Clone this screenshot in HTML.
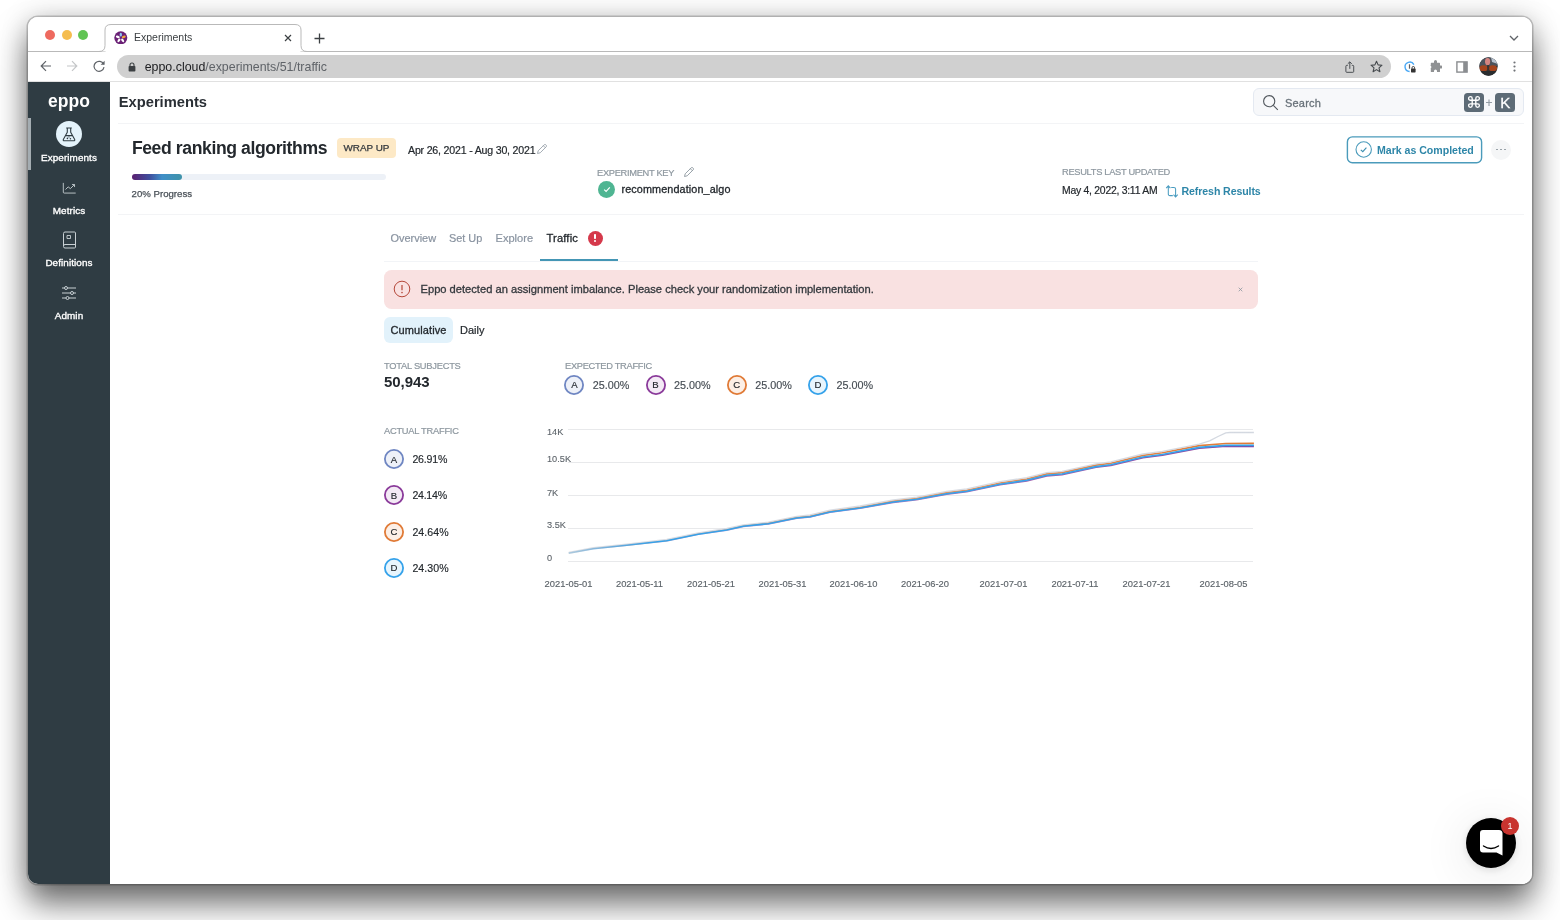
<!DOCTYPE html>
<html><head><meta charset="utf-8">
<style>
*{box-sizing:border-box;margin:0;padding:0}
html,body{width:1560px;height:920px;overflow:hidden;background:#fff;font-family:"Liberation Sans",sans-serif;color:#2a2f35}
.abs{position:absolute}
.t{position:absolute;white-space:nowrap;line-height:1}
#shadow{position:absolute;left:28px;top:17px;width:1504px;height:867px;border-radius:10px;box-shadow:0 0 0 1.5px rgba(0,0,0,.2),0 20px 32px rgba(0,0,0,.55),0 0 28px rgba(0,0,0,.19)}
#win{position:absolute;left:28px;top:17px;width:1504px;height:867px;border-radius:10px;overflow:hidden;background:#fff}
#win>*{position:absolute}
</style></head><body>
<div id="shadow"></div>
<div id="win">
<!-- coordinates inside #win are page coords minus (28,17) -->
<div id="page" style="left:-28px;top:-17px;width:1560px;height:920px;will-change:transform">

<div class="abs" style="left:28px;top:17px;width:1504px;height:35px;background:#fff;border-bottom:1px solid #b9b9b9"></div>
<div class="abs" style="left:45px;top:30px;width:10px;height:10px;border-radius:50%;background:#ee6a5f"></div>
<div class="abs" style="left:61.5px;top:30px;width:10px;height:10px;border-radius:50%;background:#f5bd4f"></div>
<div class="abs" style="left:78px;top:30px;width:10px;height:10px;border-radius:50%;background:#61c454"></div>
<svg class="abs" style="left:96px;top:22px" width="216" height="31" viewBox="0 0 216 31">
<path d="M0 29.5 H3 Q9 29.5 9 23.5 V8 Q9 2.5 15 2.5 H199 Q205 2.5 205 8 V23.5 Q205 29.5 211 29.5 H216" fill="#fff" stroke="#b9b9b9" stroke-width="1"/>
<rect x="9.6" y="28" width="194.8" height="3" fill="#fff"/>
</svg>
<svg class="abs" style="left:114.2px;top:30.9px" width="13.6" height="13.6" viewBox="0 0 15 15">
<circle cx="7.5" cy="7.5" r="7.2" fill="#6b2176"/>
<g fill="#fff"><ellipse cx="7.5" cy="4" rx="1.3" ry="2.2" fill="#8cc7f0"/><ellipse cx="7.5" cy="4" rx="1.3" ry="2.2" transform="rotate(72 7.5 7.5)" fill="#f0a63a"/><ellipse cx="7.5" cy="4" rx="1.3" ry="2.2" transform="rotate(144 7.5 7.5)"/><ellipse cx="7.5" cy="4" rx="1.3" ry="2.2" transform="rotate(216 7.5 7.5)"/><ellipse cx="7.5" cy="4" rx="1.3" ry="2.2" transform="rotate(288 7.5 7.5)"/></g>
</svg>
<div class="t" style="left:134px;top:32px;font-size:10.5px;color:#3c4043">Experiments</div>
<svg class="abs" style="left:284px;top:33.5px" width="8" height="8" viewBox="0 0 8 8"><path d="M1 1 L7 7 M7 1 L1 7" stroke="#3c4043" stroke-width="1.2" fill="none"/></svg>
<svg class="abs" style="left:314px;top:32.5px" width="11" height="11" viewBox="0 0 11 11"><path d="M5.5 0.5 V10.5 M0.5 5.5 H10.5" stroke="#3c4043" stroke-width="1.3" fill="none"/></svg>
<svg class="abs" style="left:1509px;top:35px" width="10" height="6" viewBox="0 0 10 6"><path d="M1 1 L5 5 L9 1" stroke="#5f6368" stroke-width="1.3" fill="none"/></svg>


<div class="abs" style="left:28px;top:52px;width:1504px;height:30px;background:#fff;border-bottom:1px solid #e1e1e1"></div>
<svg class="abs" style="left:40px;top:60px" width="12" height="12" viewBox="0 0 12 12"><path d="M11 6 H1.5 M6 1.2 L1.2 6 L6 10.8" stroke="#5f6368" stroke-width="1.2" fill="none"/></svg>
<svg class="abs" style="left:66px;top:60px" width="12" height="12" viewBox="0 0 12 12"><path d="M1 6 H10.5 M6 1.2 L10.8 6 L6 10.8" stroke="#c4c6c8" stroke-width="1.2" fill="none"/></svg>
<svg class="abs" style="left:92.8px;top:60.3px" width="13" height="12" viewBox="0 0 13 12"><path d="M10.6 4.2 A5 5 0 1 0 11 7.2" stroke="#5f6368" stroke-width="1.2" fill="none"/><path d="M11.6 0.8 V4.8 H7.6 Z" fill="#5f6368"/></svg>
<div class="abs" style="left:117px;top:55px;width:1274px;height:23px;border-radius:11.5px;background:#d0d0d0"></div>
<svg class="abs" style="left:127.8px;top:61.8px" width="8" height="10" viewBox="0 0 8 10"><rect x="0.6" y="4" width="6.8" height="5.6" rx="0.8" fill="#3c4043"/><path d="M2 4.5 V3 A2 2 0 0 1 6 3 V4.5" stroke="#3c4043" stroke-width="1.1" fill="none"/></svg>
<div class="t" style="left:144.7px;top:61px;font-size:12.4px;color:#5f6368"><span style="color:#202124">eppo.cloud</span>/experiments/51/traffic</div>
<svg class="abs" style="left:1345.2px;top:60.6px" width="9.6" height="12.2" viewBox="0 0 11 14"><path d="M3.2 5 H2 Q1 5 1 6 V12 Q1 13 2 13 H9 Q10 13 10 12 V6 Q10 5 9 5 H7.8 M5.5 9 V1.2 M3.2 3.2 L5.5 1 L7.8 3.2" stroke="#45494d" stroke-width="1.1" fill="none"/></svg>
<svg class="abs" style="left:1370px;top:59.5px" width="13" height="13" viewBox="0 0 13 13"><path d="M6.5 1.2 L8.1 4.9 L12 5.2 L9 7.8 L9.9 11.7 L6.5 9.6 L3.1 11.7 L4 7.8 L1 5.2 L4.9 4.9 Z" stroke="#45494d" stroke-width="1.1" fill="none" stroke-linejoin="round"/></svg>
<svg class="abs" style="left:1402.5px;top:59.6px" width="14" height="14" viewBox="0 0 14 14"><path d="M10.9 4.6 A4.7 4.7 0 1 0 6.6 11.5" stroke="#49a8f5" stroke-width="1.4" fill="none"/><rect x="5.9" y="4.3" width="1.2" height="4.4" fill="#5a5f66"/><rect x="8" y="8.6" width="4.6" height="3.8" rx="0.6" fill="#333"/><path d="M9 8.8 V7.8 A1.3 1.3 0 0 1 11.6 7.8 V8.8" stroke="#333" stroke-width="0.9" fill="none"/></svg>
<svg class="abs" style="left:1429px;top:60px" width="13" height="13" viewBox="0 0 13 13"><path d="M5 1.6 A1.5 1.5 0 0 1 8 1.6 V2.8 H10.4 Q11 2.8 11 3.4 V5.6 H12 A1.5 1.5 0 0 1 12 8.6 H11 V11.4 Q11 12 10.4 12 H8 V11 A1.5 1.5 0 0 0 5 11 V12 H2.4 Q1.8 12 1.8 11.4 V8.6 H0.9 A1.5 1.5 0 0 0 0.9 5.6 H1.8 V3.4 Q1.8 2.8 2.4 2.8 H5 Z" fill="#8f9193"/></svg>
<svg class="abs" style="left:1455.8px;top:60.5px" width="12" height="12" viewBox="0 0 12 12"><rect x="0.9" y="0.9" width="10.2" height="10.2" fill="none" stroke="#8a8d90" stroke-width="1.4"/><rect x="7.2" y="0.9" width="3.9" height="10.2" fill="#8a8d90"/></svg>
<svg class="abs" style="left:1479px;top:57px" width="19" height="19" viewBox="0 0 19 19"><defs><clipPath id="av"><circle cx="9.5" cy="9.5" r="9.2"/></clipPath></defs><g clip-path="url(#av)"><rect width="19" height="19" fill="#2b2f33"/><rect x="0" y="0" width="19" height="9" fill="#4c535c"/><path d="M12 0 H19 V7 L13 5 Z" fill="#b9c3cf"/><ellipse cx="8.6" cy="4.6" rx="2.6" ry="3.6" fill="#d58581"/><ellipse cx="4.6" cy="11.3" rx="4.3" ry="3" fill="#a5441d"/><ellipse cx="13.8" cy="11.3" rx="4.3" ry="3" fill="#a5441d"/><rect x="8.2" y="8" width="2" height="6" fill="#3a3432"/><rect x="0" y="14" width="19" height="5" fill="#2a2c2e"/></g></svg>
<svg class="abs" style="left:1512.5px;top:60px" width="3" height="13" viewBox="0 0 3 13"><circle cx="1.5" cy="2.5" r="1.1" fill="#707377"/><circle cx="1.5" cy="6.5" r="1.1" fill="#707377"/><circle cx="1.5" cy="10.6" r="1.1" fill="#707377"/></svg>


<div class="abs" style="left:28px;top:82px;width:82px;height:802px;background:#2f3c43"></div>
<div class="abs" style="left:28px;top:118px;width:3px;height:52px;background:#a4adb2"></div>
<div class="t sb" style="left:28px;width:82px;text-align:center;top:93px;font-size:17.5px;font-weight:bold;color:#fff;letter-spacing:0px">eppo</div>
<div class="abs" style="left:56px;top:121.4px;width:26px;height:26px;border-radius:50%;background:#e4f3fb"></div>
<svg class="abs" style="left:62px;top:126.8px" width="14" height="15" viewBox="0 0 14 15"><path d="M4.2 1 H9.8 M5.3 1 V5.2 L1.3 12.6 Q0.9 13.8 2.2 13.8 H11.8 Q13.1 13.8 12.7 12.6 L8.7 5.2 V1 M3.6 8.6 H10.4" stroke="#2f3c43" stroke-width="1.1" fill="none" stroke-linejoin="round"/><circle cx="5.4" cy="11.4" r="0.8" fill="#2f3c43"/><circle cx="8.4" cy="11.8" r="0.8" fill="#2f3c43"/><circle cx="7" cy="9.9" r="0.6" fill="#2f3c43"/></svg>
<div class="t" style="left:28px;width:82px;text-align:center;top:153px;font-size:9.9px;color:#fff;-webkit-text-stroke:0.35px #fff;letter-spacing:0.1px">Experiments</div>
<svg class="abs" style="left:61.8px;top:181.5px" width="15" height="12.4" viewBox="0 0 16 14"><path d="M1 1 V11.5 Q1 12.5 2 12.5 H15" stroke="#c9d0d4" stroke-width="1" fill="none"/><path d="M3.5 8.5 L6.5 5.5 L9 7.5 L13.5 3 M10.8 2.8 H13.7 V5.7" stroke="#c9d0d4" stroke-width="1" fill="none"/></svg>
<div class="t" style="left:28px;width:82px;text-align:center;top:205.5px;font-size:9.9px;color:#fff;-webkit-text-stroke:0.35px #fff;letter-spacing:0.1px">Metrics</div>
<svg class="abs" style="left:61.5px;top:231px" width="15" height="18" viewBox="0 0 15 18"><path d="M3 1 H12.5 Q13.5 1 13.5 2 V16 Q13.5 17 12.5 17 H3 Q1.5 17 1.5 15.5 V2.5 Q1.5 1 3 1 Z M1.5 15 Q1.5 13.5 3 13.5 H13.5" stroke="#c9d0d4" stroke-width="1" fill="none"/><path d="M5 4.5 H8.5 V7.5 H5 Z" stroke="#c9d0d4" stroke-width="0.9" fill="none"/></svg>
<div class="t" style="left:28px;width:82px;text-align:center;top:258px;font-size:9.9px;color:#fff;-webkit-text-stroke:0.35px #fff;letter-spacing:0.1px">Definitions</div>
<svg class="abs" style="left:61px;top:285px" width="16" height="16" viewBox="0 0 16 16"><path d="M1 3 H3.5 M6.5 3 H15 M1 8 H9.5 M12.5 8 H15 M1 13 H5 M8 13 H15" stroke="#c9d0d4" stroke-width="1" fill="none"/><circle cx="5" cy="3" r="1.5" stroke="#c9d0d4" stroke-width="1" fill="none"/><circle cx="11" cy="8" r="1.5" stroke="#c9d0d4" stroke-width="1" fill="none"/><circle cx="6.5" cy="13" r="1.5" stroke="#c9d0d4" stroke-width="1" fill="none"/></svg>
<div class="t" style="left:28px;width:82px;text-align:center;top:310.5px;font-size:9.9px;color:#fff;-webkit-text-stroke:0.35px #fff;letter-spacing:0.1px">Admin</div>


<div class="t" style="left:118.8px;top:94.8px;font-size:14.7px;font-weight:bold;color:#2a2f35">Experiments</div>
<div class="abs" style="left:1253px;top:88px;width:271px;height:28px;border-radius:6px;background:#f7f8fa;border:1px solid #e4e9f1"></div>
<svg class="abs" style="left:1262px;top:94.4px" width="17" height="17" viewBox="0 0 17 17"><circle cx="7.2" cy="7.2" r="5.6" stroke="#50565c" stroke-width="1.1" fill="none"/><path d="M11.3 11.3 L15.8 15.8" stroke="#50565c" stroke-width="1.1"/></svg>
<div class="t" style="left:1285px;top:97.5px;font-size:11px;color:#69727a;-webkit-text-stroke:0.3px #69727a;letter-spacing:0.2px">Search</div>
<div class="abs" style="left:1464.3px;top:92.5px;width:19.7px;height:19.7px;border-radius:3.5px;background:#5d6b76"></div>
<svg class="abs" style="left:1467.2px;top:95.4px" width="14" height="14" viewBox="0 0 14 14"><path d="M5.2 5.2 H8.8 V8.8 H5.2 Z M5.2 5.2 V3.4 A1.8 1.8 0 1 0 3.4 5.2 H5.2 M8.8 5.2 V3.4 A1.8 1.8 0 1 1 10.6 5.2 H8.8 M5.2 8.8 V10.6 A1.8 1.8 0 1 1 3.4 8.8 H5.2 M8.8 8.8 V10.6 A1.8 1.8 0 1 0 10.6 8.8 H8.8" stroke="#fff" stroke-width="1.35" fill="none"/></svg>
<div class="t" style="left:1485.6px;top:96.6px;font-size:12px;color:#949da5;-webkit-text-stroke:0.2px #949da5">+</div>
<div class="abs" style="left:1495.3px;top:92.5px;width:19.7px;height:19.7px;border-radius:3.5px;background:#5d6b76"></div>
<div class="t" style="left:1495.3px;width:19.7px;text-align:center;top:95px;font-size:15px;color:#fff;-webkit-text-stroke:0.3px #fff">K</div>
<div class="abs" style="left:118px;top:122.5px;width:1406px;height:1px;background:#f3f4f6"></div>


<div class="t" style="left:131.9px;top:139.7px;font-size:17.6px;font-weight:bold;color:#23282d;letter-spacing:-0.4px">Feed ranking algorithms</div>
<div class="abs" style="left:337px;top:138px;width:59px;height:20px;border-radius:4px;background:#fde9c6"></div>
<div class="t" style="left:337px;width:59px;text-align:center;top:143.2px;font-size:9.9px;color:#33383d;-webkit-text-stroke:0.25px #33383d">WRAP UP</div>
<div class="t" style="left:408px;top:145px;font-size:10.6px;letter-spacing:-0.19px;color:#23282d;-webkit-text-stroke:0.2px #23282d">Apr 26, 2021 - Aug 30, 2021</div>
<svg class="abs" style="left:536px;top:143px" width="12" height="12" viewBox="0 0 12 12"><path d="M1.5 10.5 L2.2 7.8 L8.2 1.8 Q9 1 9.8 1.8 L10.2 2.2 Q11 3 10.2 3.8 L4.2 9.8 Z M7.3 2.7 L9.3 4.7" stroke="#9aa3ab" stroke-width="0.9" fill="none" stroke-linejoin="round"/></svg>
<div class="abs" style="left:131.5px;top:174.1px;width:254.5px;height:6px;border-radius:3px;background:#edf1f7"></div>
<div class="abs" style="left:131.5px;top:174.1px;width:50.7px;height:6px;border-radius:3px;background:linear-gradient(90deg,#5c2070 0%,#3f4f9e 35%,#3f8fc8 60%,#3f93a9 100%)"></div>
<div class="t" style="left:131.6px;top:188.8px;font-size:9.65px;color:#4a5158;-webkit-text-stroke:0.25px #4a5158">20% Progress</div>

<div class="t" style="left:597px;top:168.9px;font-size:9.3px;letter-spacing:-0.31px;color:#8d979f;-webkit-text-stroke:0.2px #8d979f">EXPERIMENT KEY</div>
<svg class="abs" style="left:683px;top:166px" width="12" height="12" viewBox="0 0 12 12"><path d="M1.5 10.5 L2.2 7.8 L8.2 1.8 Q9 1 9.8 1.8 L10.2 2.2 Q11 3 10.2 3.8 L4.2 9.8 Z M7.3 2.7 L9.3 4.7" stroke="#8d979f" stroke-width="0.9" fill="none" stroke-linejoin="round"/></svg>
<div class="abs" style="left:598px;top:181px;width:17px;height:17px;border-radius:50%;background:#4fb592"></div>
<svg class="abs" style="left:602.5px;top:186px" width="8" height="7" viewBox="0 0 8 7"><path d="M1.2 3.6 L3.1 5.4 L6.8 1.4" stroke="#fff" stroke-width="1.2" fill="none"/></svg>
<div class="t" style="left:621.5px;top:183.5px;font-size:10.8px;letter-spacing:0.12px;color:#23282d;-webkit-text-stroke:0.3px #23282d">recommendation_algo</div>

<div class="t" style="left:1062px;top:167.9px;font-size:9.3px;letter-spacing:-0.31px;color:#8d979f;-webkit-text-stroke:0.2px #8d979f">RESULTS LAST UPDATED</div>
<div class="t" style="left:1062px;top:186.2px;font-size:10.4px;color:#23282d;-webkit-text-stroke:0.2px #23282d;letter-spacing:-0.25px">May 4, 2022, 3:11 AM</div>
<svg class="abs" style="left:1165px;top:183.5px" width="14" height="14" viewBox="0 0 14 14"><path d="M7.8 11.6 H5 Q3.3 11.6 3.3 9.9 V2 M1.2 4.2 L3.3 1.8 L5.4 4.2 M6.2 3.4 H8.9 Q10.6 3.4 10.6 5.1 V12.8 M8.5 10.6 L10.6 13 L12.7 10.6" stroke="#4a9cc0" stroke-width="1.05" fill="none"/></svg>
<div class="t" style="left:1181.5px;top:185.7px;font-size:10.6px;font-weight:bold;color:#2e86a8;letter-spacing:-0.1px">Refresh Results</div>

<svg class="abs" style="left:1345px;top:135px" width="139" height="30" viewBox="0 0 139 30"><rect x="2.4" y="1.9" width="134.2" height="25.8" rx="5" fill="#fff" stroke="#4b9bbb" stroke-width="1.4"/></svg>
<svg class="abs" style="left:1355px;top:141.2px" width="17" height="17" viewBox="0 0 17 17"><circle cx="8.7" cy="8.5" r="7.7" stroke="#4b9bbb" stroke-width="1.1" fill="none"/><path d="M5.8 8.8 L7.8 10.7 L11.4 6.6" stroke="#3d8fb0" stroke-width="1.1" fill="none"/></svg>
<div class="t" style="left:1377px;top:144.7px;font-size:10.6px;font-weight:bold;color:#2e86a8;letter-spacing:-0.02px">Mark as Completed</div>
<div class="abs" style="left:1491px;top:139.5px;width:20px;height:20px;border-radius:50%;background:#f5f6f7"></div>
<div class="abs" style="left:1496.2px;top:148.8px;width:1.6px;height:1.6px;border-radius:50%;background:#8d979f;box-shadow:4px 0 0 #8d979f,8px 0 0 #8d979f"></div>
<div class="abs" style="left:118px;top:213.5px;width:1406px;height:1px;background:#f3f4f6"></div>

<div class="t" style="left:390.5px;top:233px;font-size:10.95px;color:#8993a0;-webkit-text-stroke:0.2px #8993a0">Overview</div>
<div class="t" style="left:449px;top:233px;font-size:10.9px;color:#8993a0;-webkit-text-stroke:0.2px #8993a0">Set Up</div>
<div class="t" style="left:495.5px;top:233px;font-size:11.1px;color:#8993a0;-webkit-text-stroke:0.2px #8993a0">Explore</div>
<div class="t" style="left:546.5px;top:233px;font-size:11.2px;letter-spacing:0.15px;color:#23282d;-webkit-text-stroke:0.3px #23282d">Traffic</div>
<div class="abs" style="left:587.5px;top:230.5px;width:15px;height:15px;border-radius:50%;background:#d5394b"></div>
<div class="abs" style="left:594.2px;top:233.6px;width:1.7px;height:5.4px;border-radius:0.8px;background:#fff"></div>
<div class="abs" style="left:594.1px;top:240.3px;width:1.9px;height:1.9px;border-radius:50%;background:#fff"></div>
<div class="abs" style="left:384px;top:260.5px;width:874px;height:1px;background:#f2f4f7"></div>
<div class="abs" style="left:540px;top:259px;width:78px;height:2px;background:#4496b5"></div>

<div class="abs" style="left:384px;top:269.6px;width:874px;height:39.3px;border-radius:7.5px;background:#f9e1e1"></div>
<svg class="abs" style="left:393px;top:280px" width="18" height="18" viewBox="0 0 18 18"><circle cx="9" cy="9" r="7.8" stroke="#b5483a" stroke-width="1" fill="none"/><path d="M9 5 V10.2" stroke="#b5483a" stroke-width="1.2"/><circle cx="9" cy="12.6" r="0.8" fill="#b5483a"/></svg>
<div class="t" style="left:420.5px;top:283.7px;font-size:11.15px;color:#33383d;-webkit-text-stroke:0.3px #33383d">Eppo detected an assignment imbalance. Please check your randomization implementation.</div>
<svg class="abs" style="left:1237.5px;top:287px" width="5" height="5" viewBox="0 0 5 5"><path d="M0.7 0.7 L4.3 4.3 M4.3 0.7 L0.7 4.3" stroke="#8d979f" stroke-width="0.8"/></svg>

<div class="abs" style="left:384px;top:317px;width:69px;height:26px;border-radius:6px;background:#e2f2fb"></div>
<div class="t" style="left:390.5px;top:325px;font-size:11px;letter-spacing:0.1px;color:#23282d;-webkit-text-stroke:0.3px #23282d">Cumulative</div>
<div class="t" style="left:460px;top:325px;font-size:11px;color:#23282d;-webkit-text-stroke:0.2px #23282d">Daily</div>

<div class="t" style="left:384px;top:362.0px;font-size:9.3px;letter-spacing:-0.24px;color:#8d979f;-webkit-text-stroke:0.2px #8d979f">TOTAL SUBJECTS</div>
<div class="t" style="left:384px;top:374.2px;font-size:15px;font-weight:bold;color:#23282d;letter-spacing:-0.05px">50,943</div>
<div class="t" style="left:565px;top:361.9px;font-size:9.3px;letter-spacing:-0.31px;color:#8d979f;-webkit-text-stroke:0.2px #8d979f">EXPECTED TRAFFIC</div>
<svg class="abs" style="left:563.4px;top:373.9px" width="22" height="22" viewBox="0 0 22 22"><circle cx="11" cy="11" r="9.1" fill="#eef1f8" stroke="#6f86c2" stroke-width="1.8"/></svg><div class="t" style="left:564.4px;width:20px;text-align:center;top:380.3px;font-size:9.6px;color:#23282d;-webkit-text-stroke:0.15px #23282d">A</div><div class="t" style="left:592.8px;top:380px;font-size:10.8px;color:#454c53;-webkit-text-stroke:0.15px #454c53">25.00%</div>
<svg class="abs" style="left:644.5px;top:373.9px" width="22" height="22" viewBox="0 0 22 22"><circle cx="11" cy="11" r="9.1" fill="#f3eaf5" stroke="#8a3a9a" stroke-width="1.8"/></svg><div class="t" style="left:645.5px;width:20px;text-align:center;top:380.3px;font-size:9.6px;color:#23282d;-webkit-text-stroke:0.15px #23282d">B</div><div class="t" style="left:673.9px;top:380px;font-size:10.8px;color:#454c53;-webkit-text-stroke:0.15px #454c53">25.00%</div>
<svg class="abs" style="left:725.8px;top:373.9px" width="22" height="22" viewBox="0 0 22 22"><circle cx="11" cy="11" r="9.1" fill="#fcefe6" stroke="#e07a36" stroke-width="1.8"/></svg><div class="t" style="left:726.8px;width:20px;text-align:center;top:380.3px;font-size:9.6px;color:#23282d;-webkit-text-stroke:0.15px #23282d">C</div><div class="t" style="left:755.2px;top:380px;font-size:10.8px;color:#454c53;-webkit-text-stroke:0.15px #454c53">25.00%</div>
<svg class="abs" style="left:807.0px;top:373.9px" width="22" height="22" viewBox="0 0 22 22"><circle cx="11" cy="11" r="9.1" fill="#e8f5fd" stroke="#35a2ea" stroke-width="1.8"/></svg><div class="t" style="left:808.0px;width:20px;text-align:center;top:380.3px;font-size:9.6px;color:#23282d;-webkit-text-stroke:0.15px #23282d">D</div><div class="t" style="left:836.4px;top:380px;font-size:10.8px;color:#454c53;-webkit-text-stroke:0.15px #454c53">25.00%</div>
<div class="t" style="left:384px;top:427.4px;font-size:9.3px;letter-spacing:-0.24px;color:#8d979f;-webkit-text-stroke:0.2px #8d979f">ACTUAL TRAFFIC</div>
<svg class="abs" style="left:383px;top:448.3px" width="22" height="22" viewBox="0 0 22 22"><circle cx="11" cy="11" r="9.1" fill="#eef1f8" stroke="#6f86c2" stroke-width="1.8"/></svg><div class="t" style="left:384px;width:20px;text-align:center;top:454.8px;font-size:9.6px;color:#23282d;-webkit-text-stroke:0.15px #23282d">A</div><div class="t" style="left:412.4px;top:454px;font-size:10.6px;color:#23282d;letter-spacing:-0.2px;-webkit-text-stroke:0.15px #23282d">26.91%</div>
<svg class="abs" style="left:383px;top:484.4px" width="22" height="22" viewBox="0 0 22 22"><circle cx="11" cy="11" r="9.1" fill="#f3eaf5" stroke="#8a3a9a" stroke-width="1.8"/></svg><div class="t" style="left:384px;width:20px;text-align:center;top:490.8px;font-size:9.6px;color:#23282d;-webkit-text-stroke:0.15px #23282d">B</div><div class="t" style="left:412.4px;top:490px;font-size:10.6px;color:#23282d;letter-spacing:-0.25px;-webkit-text-stroke:0.15px #23282d">24.14%</div>
<svg class="abs" style="left:383px;top:520.6px" width="22" height="22" viewBox="0 0 22 22"><circle cx="11" cy="11" r="9.1" fill="#fcefe6" stroke="#e07a36" stroke-width="1.8"/></svg><div class="t" style="left:384px;width:20px;text-align:center;top:526.8px;font-size:9.6px;color:#23282d;-webkit-text-stroke:0.15px #23282d">C</div><div class="t" style="left:412.4px;top:527px;font-size:10.6px;color:#23282d;letter-spacing:0.05px;-webkit-text-stroke:0.15px #23282d">24.64%</div>
<svg class="abs" style="left:383px;top:556.8px" width="22" height="22" viewBox="0 0 22 22"><circle cx="11" cy="11" r="9.1" fill="#e8f5fd" stroke="#35a2ea" stroke-width="1.8"/></svg><div class="t" style="left:384px;width:20px;text-align:center;top:563.3px;font-size:9.6px;color:#23282d;-webkit-text-stroke:0.15px #23282d">D</div><div class="t" style="left:412.4px;top:563px;font-size:10.6px;color:#23282d;letter-spacing:0.05px;-webkit-text-stroke:0.15px #23282d">24.30%</div>
<svg class="abs" style="left:540px;top:420px" width="730" height="180" viewBox="540 420 730 180">
<line x1="568" y1="429.5" x2="1253" y2="429.5" stroke="#e8e9eb" stroke-width="1"/>
<line x1="568" y1="462.5" x2="1253" y2="462.5" stroke="#e8e9eb" stroke-width="1"/>
<line x1="568" y1="495.5" x2="1253" y2="495.5" stroke="#e8e9eb" stroke-width="1"/>
<line x1="568" y1="528.5" x2="1253" y2="528.5" stroke="#e8e9eb" stroke-width="1"/>
<line x1="568" y1="561.5" x2="1253" y2="561.5" stroke="#e8e9eb" stroke-width="1"/>
<defs>
<linearGradient id="gA" gradientUnits="userSpaceOnUse" x1="568" y1="0" x2="1254" y2="0"><stop offset="0" stop-color="#d3d8e0" stop-opacity=".8"/><stop offset="1" stop-color="#d3d8e0"/></linearGradient>
<linearGradient id="gB" gradientUnits="userSpaceOnUse" x1="568" y1="0" x2="1254" y2="0"><stop offset="0" stop-color="#8a3a9a" stop-opacity="0"/><stop offset=".3" stop-color="#8a3a9a" stop-opacity=".6"/><stop offset="1" stop-color="#8a3a9a"/></linearGradient>
<linearGradient id="gC" gradientUnits="userSpaceOnUse" x1="568" y1="0" x2="1254" y2="0"><stop offset="0" stop-color="#e07a36" stop-opacity=".2"/><stop offset=".3" stop-color="#e07a36" stop-opacity=".7"/><stop offset="1" stop-color="#e07a36"/></linearGradient>
<linearGradient id="gD" gradientUnits="userSpaceOnUse" x1="568" y1="0" x2="1254" y2="0"><stop offset="0" stop-color="#35a2ea" stop-opacity=".35"/><stop offset=".12" stop-color="#35a2ea" stop-opacity="1"/><stop offset="1" stop-color="#35a2ea"/></linearGradient>
</defs><g fill="none" stroke-linejoin="round">
<path d="M568.7 553.3 L593.3 548.7 L626.7 545.3 L666.7 540.9 L698.3 534.3 L726.7 530.1 L743.3 526.5 L768.3 523.9 L796.7 518.2 L810.0 517.0 L830.0 512.3 L860.0 508.3 L893.3 502.4 L916.7 499.7 L946.7 494.2 L966.7 491.8 L1000.0 484.7 L1026.7 480.9 L1046.7 475.9 L1062.0 474.7 L1096.0 467.3 L1110.8 465.4 L1143.0 457.8 L1162.4 455.3 L1199.3 448.3 L1225.8 446.3 L1253.9 446.4" stroke="url(#gB)" stroke-width="1.6"/>
<path d="M568.7 553.1 L593.3 548.5 L626.7 545.1 L666.7 540.5 L698.3 533.8 L726.7 529.5 L743.3 525.8 L768.3 523.1 L796.7 517.4 L810.0 516.0 L830.0 511.3 L860.0 507.2 L893.3 501.1 L916.7 498.3 L946.7 492.6 L966.7 490.2 L1000.0 483.0 L1026.7 479.0 L1046.7 473.9 L1062.0 472.6 L1096.0 465.1 L1110.8 463.2 L1143.0 455.4 L1162.4 452.8 L1199.3 445.6 L1225.8 443.5 L1253.9 443.4" stroke="url(#gC)" stroke-width="1.6"/>
<path d="M568.7 552.4 L593.3 547.7 L626.7 544.2 L666.7 539.5 L698.3 532.8 L726.7 528.5 L743.3 524.8 L768.3 522.1 L796.7 516.3 L810.0 514.9 L830.0 510.1 L860.0 506.0 L893.3 499.9 L916.7 497.1 L946.7 491.4 L966.7 488.9 L1000.0 481.7 L1026.7 477.7 L1046.7 472.7 L1062.0 471.3 L1096.0 463.8 L1110.8 461.8 L1143.0 454.0 L1162.4 451.4 L1199.3 444.2 L1209.6 440.8 L1218.0 436.5 L1225.8 432.9 L1230.0 432.5 L1253.9 432.5" stroke="url(#gA)" stroke-width="1.3"/>
<path d="M568.7 553.3 L593.3 548.7 L626.7 545.3 L666.7 540.8 L698.3 534.2 L726.7 530.0 L743.3 526.3 L768.3 523.7 L796.7 518.0 L810.0 516.7 L830.0 512.0 L860.0 508.0 L893.3 502.0 L916.7 499.3 L946.7 493.7 L966.7 491.3 L1000.0 484.2 L1026.7 480.3 L1046.7 475.3 L1062.0 474.0 L1096.0 466.6 L1110.8 464.7 L1143.0 457.0 L1162.4 454.5 L1199.3 447.4 L1225.8 445.4 L1253.9 445.4" stroke="url(#gD)" stroke-width="1.6"/>
</g>
</svg>
<div class="t" style="left:547px;top:427.5px;font-size:9.2px;color:#5c6369;-webkit-text-stroke:0.1px #5c6369">14K</div>
<div class="t" style="left:547px;top:454.6px;font-size:9.2px;color:#5c6369;-webkit-text-stroke:0.1px #5c6369">10.5K</div>
<div class="t" style="left:547px;top:488.6px;font-size:9.2px;color:#5c6369;-webkit-text-stroke:0.1px #5c6369">7K</div>
<div class="t" style="left:547px;top:520.5px;font-size:9.2px;color:#5c6369;-webkit-text-stroke:0.1px #5c6369">3.5K</div>
<div class="t" style="left:547px;top:553.5px;font-size:9.2px;color:#5c6369;-webkit-text-stroke:0.1px #5c6369">0</div>
<div class="t" style="left:528.5px;width:80px;text-align:center;top:580.4px;font-size:9.35px;color:#5c6369;-webkit-text-stroke:0.15px #5c6369">2021-05-01</div>
<div class="t" style="left:599.5px;width:80px;text-align:center;top:580.4px;font-size:9.35px;color:#5c6369;-webkit-text-stroke:0.15px #5c6369">2021-05-11</div>
<div class="t" style="left:671px;width:80px;text-align:center;top:580.4px;font-size:9.35px;color:#5c6369;-webkit-text-stroke:0.15px #5c6369">2021-05-21</div>
<div class="t" style="left:742.5px;width:80px;text-align:center;top:580.4px;font-size:9.35px;color:#5c6369;-webkit-text-stroke:0.15px #5c6369">2021-05-31</div>
<div class="t" style="left:813.5px;width:80px;text-align:center;top:580.4px;font-size:9.35px;color:#5c6369;-webkit-text-stroke:0.15px #5c6369">2021-06-10</div>
<div class="t" style="left:885px;width:80px;text-align:center;top:580.4px;font-size:9.35px;color:#5c6369;-webkit-text-stroke:0.15px #5c6369">2021-06-20</div>
<div class="t" style="left:963.5px;width:80px;text-align:center;top:580.4px;font-size:9.35px;color:#5c6369;-webkit-text-stroke:0.15px #5c6369">2021-07-01</div>
<div class="t" style="left:1035px;width:80px;text-align:center;top:580.4px;font-size:9.35px;color:#5c6369;-webkit-text-stroke:0.15px #5c6369">2021-07-11</div>
<div class="t" style="left:1106.5px;width:80px;text-align:center;top:580.4px;font-size:9.35px;color:#5c6369;-webkit-text-stroke:0.15px #5c6369">2021-07-21</div>
<div class="t" style="left:1183.5px;width:80px;text-align:center;top:580.4px;font-size:9.35px;color:#5c6369;-webkit-text-stroke:0.15px #5c6369">2021-08-05</div>


<div class="abs" style="left:1466.4px;top:818.3px;width:50px;height:50px;border-radius:50%;background:#000;box-shadow:0 2px 8px rgba(0,0,0,.12),0 6px 46px 6px rgba(0,0,0,.07)"></div>
<svg class="abs" style="left:1479px;top:829px" width="26" height="28" viewBox="0 0 26 28"><path d="M4 1 H20 Q23.5 1 23.5 4.5 V26.5 L17.5 23.5 H4 Q1 23.5 1 20.5 V4 Q1 1 4 1 Z" fill="#fff"/><path d="M4.5 17 Q12 22 19.5 17" stroke="#000" stroke-width="1.4" fill="none" stroke-linecap="round"/></svg>
<div class="abs" style="left:1501px;top:817px;width:18px;height:18px;border-radius:50%;background:#c8342f"></div>
<div class="t" style="left:1501px;width:18px;text-align:center;top:821.5px;font-size:9px;color:#fff">1</div>

</div>
</div>
</body></html>
